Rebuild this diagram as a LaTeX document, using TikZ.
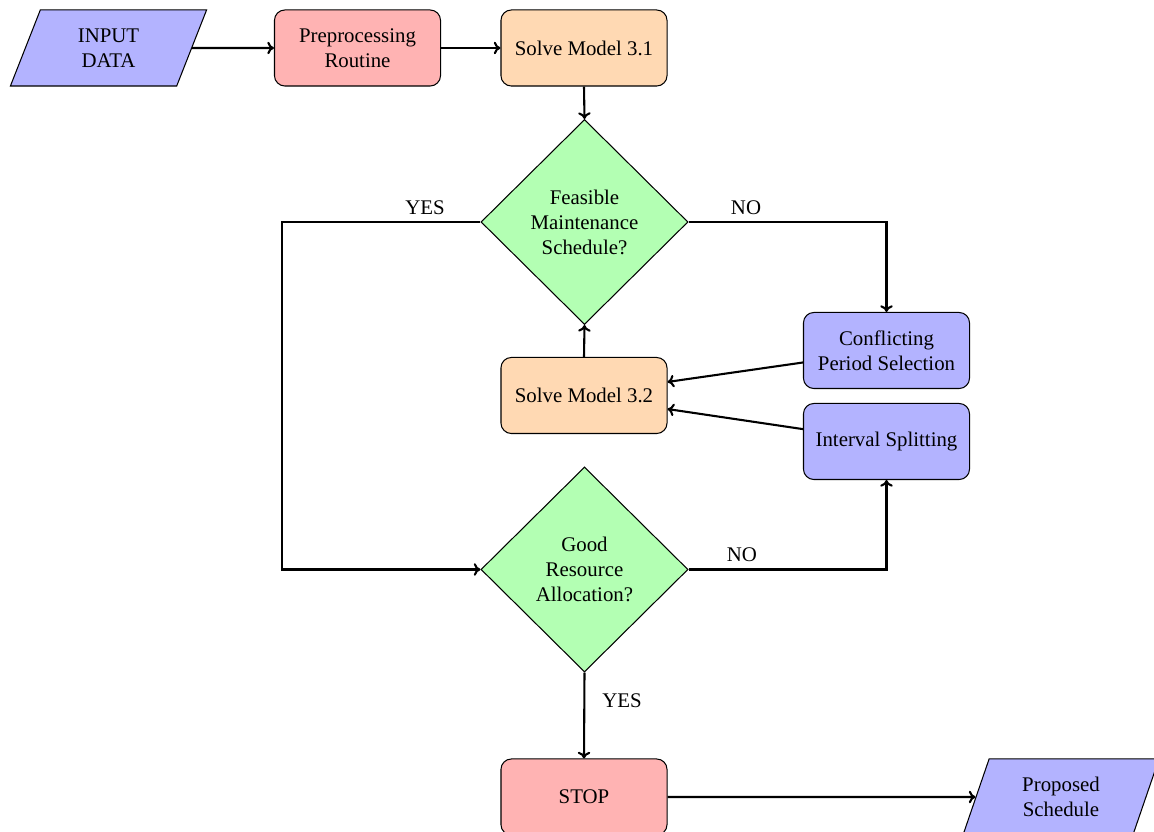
\documentclass[tikz,border=0pt]{standalone}
\usepackage{fontspec}
\setmainfont{Liberation Serif}
\usetikzlibrary{shapes.geometric,calc,arrows.meta}
\definecolor{cblue}{RGB}{179,179,255}
\definecolor{cred}{RGB}{255,179,179}
\definecolor{corange}{RGB}{255,217,179}
\definecolor{cgreen}{RGB}{179,255,179}
\tikzset{
  procbox/.style={rectangle, rounded corners=5pt, draw=black, line width=0.5pt, minimum width=79.7pt, minimum height=36.5pt, align=center, inner sep=2pt},
  iobox/.style={trapezium, trapezium left angle=72, trapezium right angle=108, trapezium stretches=true, draw=black, line width=0.5pt, fill=cblue, minimum width=94.6pt, minimum height=36.5pt, align=center, inner sep=2pt},
  decbox/.style={diamond, aspect=1, draw=black, line width=0.5pt, fill=cgreen, minimum width=99.4pt, minimum height=98.4pt, align=center, inner sep=0pt},
  conn/.style={-{To[length=3.2pt,width=6pt]}, line width=1pt},
  lbl/.style={inner sep=1pt}
}
\begin{document}
\begin{tikzpicture}[x=0.48pt, y=-0.48pt]
\useasboundingbox (0,0) rectangle (1154,832);
\node[iobox] (in) at (108.5,48) {INPUT\\DATA};
\node[procbox, fill=cred] (pre) at (357.5,48) {Preprocessing\\Routine};
\node[procbox, fill=corange] (s31) at (584,48) {Solve Model 3.1};
\node[decbox] (d1) at (584.5,222) {Feasible\\Maintenance\\Schedule?};
\node[procbox, fill=cblue] (conf) at (886.5,350.5) {Conflicting\\Period Selection};
\node[procbox, fill=corange] (s32) at (584,395.5) {Solve Model 3.2};
\node[procbox, fill=cblue] (split) at (886.5,441.5) {Interval Splitting};
\node[decbox] (d2) at (584.5,569.5) {Good\\Resource\\Allocation?};
\node[procbox, fill=cred] (stop) at (584,797) {STOP};
\node[iobox] (out) at (1061,797) {Proposed\\Schedule};
\coordinate (yesL) at (282,222);

\draw[conn] (in.east) -- (pre.west);
\draw[conn] (pre.east) -- (s31.west);
\draw[conn] (s31.south) -- (d1.north);
\draw[conn] (d1.west) -- (yesL) |- (d2.west);
\draw[conn] (d1.east) -| (conf.north);
\draw[conn] (conf) -- ([yshift=6.5pt]s32.east);
\draw[conn] (split) -- ([yshift=-6.5pt]s32.east);
\draw[conn] (s32.north) -- (d1.south);
\draw[conn] (d2.east) -| (split.south);
\draw[conn] (d2.south) -- (stop.north);
\draw[conn] (stop.east) -- (out.west);

\node[lbl] (yes1) at (425,208) {YES};
\node[lbl] (no1) at (746,208) {NO};
\node[lbl] (no2) at (742,555) {NO};
\node[lbl] (yes2) at (622,701) {YES};
\end{tikzpicture}
\end{document}
